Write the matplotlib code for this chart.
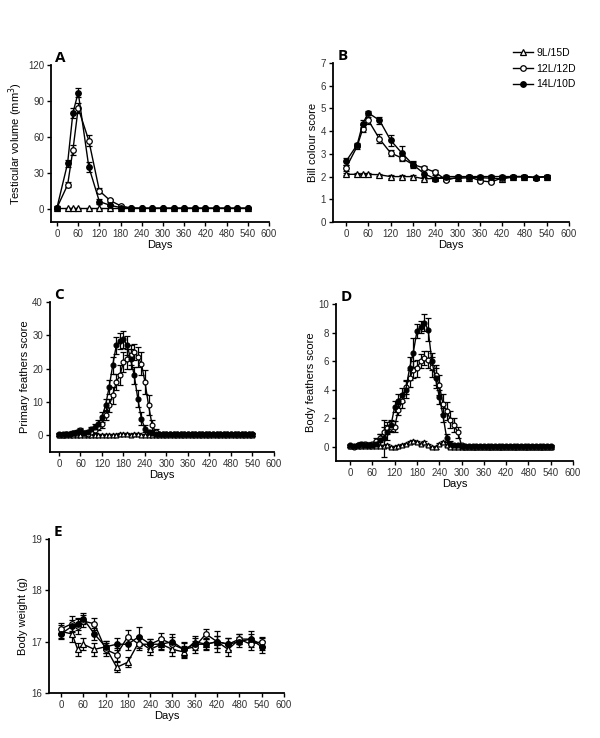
import numpy as np
import matplotlib.pyplot as plt
from matplotlib.lines import Line2D

plt.rcParams['font.family'] = ['Liberation Sans', 'DejaVu Sans']

# sampling days for panels A, B, E
days = [0, 30, 45, 60, 90, 120, 150, 180, 210, 240, 270, 300, 330, 360,
        390, 420, 450, 480, 510, 540]
# denser sampling for the moult panels C, D
days_m = list(range(0, 541, 10))

labels = ['9L/15D', '12L/12D', '14L/10D']

# A: testicular volume
testis_9 = [0.5, 0.5, 0.5, 0.5, 0.5, 0.5, 0.5, 0.5, 0.5, 0.5, 0.5, 0.5, 0.5,
            0.5, 0.5, 0.5, 0.5, 0.5, 0.5, 0.5]
testis_12 = [1, 20, 49, 84, 57, 15, 7, 2.5, 0.6, 0.5, 0.5, 0.5, 0.5, 0.5,
             0.5, 0.5, 0.5, 0.5, 0.5, 0.5]
testis_14 = [1, 38, 80, 97, 35, 6, 3, 1, 0.6, 0.5, 0.5, 0.5, 0.5, 0.5,
             0.5, 0.5, 0.5, 0.5, 0.5, 0.5]
testis_9_err = [0.3] * 20
testis_12_err = [1, 2, 4, 4, 5, 2, 1.5, 1, 0.5, 0.5, 0.5, 0.5, 0.5, 0.5,
                 0.5, 0.5, 0.5, 0.5, 0.5, 0.5]
testis_14_err = [1, 3, 4, 4, 4, 2, 1, 0.5, 0.5, 0.5, 0.5, 0.5, 0.5, 0.5,
                 0.5, 0.5, 0.5, 0.5, 0.5, 0.5]

# B: bill colour score
bill_9 = [2.1, 2.1, 2.1, 2.1, 2.08, 2.0, 2.0, 2.0, 1.9, 1.92, 1.93, 1.92,
          1.95, 1.95, 1.93, 1.9, 1.98, 2.0, 1.97, 2.0]
bill_12 = [2.38, 3.33, 4.1, 4.48, 3.66, 3.04, 2.82, 2.53, 2.38, 2.19, 1.84,
           1.97, 2.0, 1.82, 1.76, 1.94, 2.0, 2.0, 1.95, 2.0]
bill_14 = [2.67, 3.4, 4.33, 4.8, 4.48, 3.6, 3.04, 2.53, 2.13, 1.9, 2.0, 2.0,
           2.0, 2.0, 2.0, 2.0, 2.0, 2.0, 1.95, 2.0]
bill_9_err = [0.05] * 20
bill_12_err = [0.15, 0.1, 0.15, 0.15, 0.2, 0.15, 0.15, 0.1, 0.1, 0.1, 0.05,
               0.05, 0.05, 0.05, 0.05, 0.05, 0.05, 0.05, 0.05, 0.05]
bill_14_err = [0.15, 0.1, 0.15, 0.1, 0.15, 0.25, 0.3, 0.15, 0.15, 0.1, 0.05,
               0.05, 0.05, 0.05, 0.05, 0.05, 0.05, 0.05, 0.05, 0.05]

# C: primary feathers score
prim_9 = [0.0, 0.0, 0.0, 0.0, 0.0, 0.0, 0.0, 0.0, 0.0, 0.0, 0.0, 0.0, 0.0,
          0.0, 0.0, 0.2, 0.2, 0.3, 0.3, 0.3, 0.2, 0.3, 0.3, 0.2, 0.2, 0.0,
          0.0, 0.0, 0.0, 0.0, 0.0, 0.0, 0.0, 0.0, 0.0, 0.0, 0.0, 0.0, 0.0,
          0.0, 0.0, 0.0, 0.0, 0.0, 0.0, 0.0, 0.0, 0.0, 0.0, 0.0, 0.0, 0.0,
          0.0, 0.0, 0.0]
prim_12 = [0.2, 0.2, 0.3, 0.4, 0.6, 0.8, 1.5, 0.8, 0.5, 1.0, 1.5, 2.5, 3.5,
           6, 9, 12, 16, 18, 22, 23, 24, 25, 23.5, 21.5, 16, 9, 3, 1,
           0.3, 0.3, 0.3, 0.3, 0.3, 0.3, 0.3, 0.3, 0.3, 0.3, 0.3, 0.3, 0.3,
           0.3, 0.3, 0.3, 0.3, 0.3, 0.3, 0.3, 0.3, 0.3, 0.3, 0.3, 0.3, 0.3,
           0.3]
prim_14 = [0.3, 0.3, 0.4, 0.5, 0.8, 1.0, 1.2, 0.8, 1.0, 1.8, 2.5, 3.5, 5.5,
           9, 14.5, 21, 27, 28.3, 28.8, 27, 23, 18, 11, 5, 2, 1, 0.6, 0.4,
           0.3, 0.3, 0.3, 0.3, 0.3, 0.3, 0.3, 0.3, 0.3, 0.3, 0.3, 0.3, 0.3,
           0.3, 0.3, 0.3, 0.3, 0.3, 0.3, 0.3, 0.3, 0.3, 0.3, 0.3, 0.3, 0.3,
           0.3]
prim_12_err = [0.5, 0.5, 0.5, 0.5, 0.6, 0.6, 0.8, 0.6, 0.5, 0.6, 0.8, 1.0,
               1.2, 1.5, 2.0, 2.5, 2.5, 3.0, 3.0, 3.0, 3.0, 2.5, 3.0, 3.5,
               3.5, 3.0, 1.5, 0.8, 0.5, 0.5, 0.5, 0.5, 0.5, 0.5, 0.5, 0.5,
               0.5, 0.5, 0.5, 0.5, 0.5, 0.5, 0.5, 0.5, 0.5, 0.5, 0.5, 0.5,
               0.5, 0.5, 0.5, 0.5, 0.5, 0.5, 0.5]
prim_14_err = [0.5, 0.5, 0.5, 0.5, 0.6, 0.6, 0.8, 0.6, 0.6, 0.8, 1.0, 1.2,
               1.5, 1.8, 2.0, 2.5, 2.5, 2.5, 2.5, 2.8, 3.0, 2.5, 2.5, 2.0,
               1.0, 0.6, 0.5, 0.5, 0.5, 0.5, 0.5, 0.5, 0.5, 0.5, 0.5, 0.5,
               0.5, 0.5, 0.5, 0.5, 0.5, 0.5, 0.5, 0.5, 0.5, 0.5, 0.5, 0.5,
               0.5, 0.5, 0.5, 0.5, 0.5, 0.5, 0.5]

# D: body feathers score
body_9 = [0.05, 0.05, 0.05, 0.05, 0.05, 0.05, 0.05, 0.05, 0.05, 0.05, 0.1,
          0.0, -0.05, 0.05, 0.1, 0.2, 0.3, 0.4, 0.35, 0.2, 0.3, 0.1, 0.0,
          -0.05, 0.2, 0.3, 0.1, 0.0, -0.05, -0.05, -0.05, -0.05, -0.05,
          -0.05, -0.05, -0.05, -0.05, -0.05, -0.05, -0.05, -0.05, -0.05,
          -0.05, -0.05, -0.05, -0.05, -0.05, -0.05, -0.05, -0.05, -0.05,
          -0.05, -0.05, -0.05, -0.05]
body_12 = [0.05, 0.0, 0.1, 0.1, 0.2, 0.1, 0.2, 0.4, 0.6, 1.0, 1.3, 1.4, 1.4,
           2.6, 3.2, 4.2, 4.8, 5.4, 5.5, 6.0, 6.2, 6.1, 5.6, 5.0, 4.3, 3.0,
           2.5, 1.9, 1.5, 1.0, 0.1, 0.0, 0.0, 0.0, 0.0, 0.0, 0.0, 0.0, 0.0,
           0.0, 0.0, 0.0, 0.0, 0.0, 0.0, 0.0, 0.0, 0.0, 0.0, 0.0, 0.0, 0.0,
           0.0, 0.0, 0.0]
body_14 = [0.1, 0.05, 0.1, 0.2, 0.1, 0.15, 0.1, 0.2, 0.5, 0.6, 1.0, 1.5,
           2.8, 3.2, 3.6, 4.0, 5.5, 6.6, 8.1, 8.4, 8.7, 8.2, 6.0, 4.8, 3.5,
           2.2, 0.6, 0.2, 0.1, 0.1, 0.05, 0.05, 0.05, 0.05, 0.05, 0.05,
           0.05, 0.05, 0.05, 0.05, 0.05, 0.05, 0.05, 0.05, 0.05, 0.05, 0.05,
           0.05, 0.05, 0.05, 0.05, 0.05, 0.05, 0.05, 0.05]
body_12_err = [0.1, 0.1, 0.1, 0.1, 0.15, 0.1, 0.15, 0.2, 0.3, 0.4, 0.4, 0.4,
               0.4, 0.4, 0.5, 0.5, 0.6, 0.6, 0.6, 0.5, 0.5, 0.6, 0.7, 0.7,
               0.7, 0.7, 0.6, 0.6, 0.5, 0.4, 0.1, 0.1, 0.1, 0.1, 0.1, 0.1,
               0.1, 0.1, 0.1, 0.1, 0.1, 0.1, 0.1, 0.1, 0.1, 0.1, 0.1, 0.1,
               0.1, 0.1, 0.1, 0.1, 0.1, 0.1, 0.1]
body_14_err = [0.1, 0.1, 0.1, 0.15, 0.1, 0.1, 0.1, 0.2, 0.4, 1.3, 0.5, 0.4,
               0.4, 0.5, 0.5, 0.6, 0.8, 1.0, 0.5, 0.4, 0.6, 0.8, 0.6, 0.7,
               0.5, 0.5, 0.3, 0.2, 0.1, 0.1, 0.1, 0.1, 0.1, 0.1, 0.1, 0.1,
               0.1, 0.1, 0.1, 0.1, 0.1, 0.1, 0.1, 0.1, 0.1, 0.1, 0.1, 0.1,
               0.1, 0.1, 0.1, 0.1, 0.1, 0.1, 0.1]

# E: body weight
weight_9 = [17.2, 17.15, 16.85, 16.95, 16.85, 16.9, 16.5, 16.6, 17.0, 16.85,
            16.95, 16.85, 16.8, 17.0, 16.95, 17.0, 16.85, 17.05, 17.05, 16.95]
weight_12 = [17.25, 17.35, 17.3, 17.4, 17.35, 16.85, 16.75, 17.1, 16.95,
             16.95, 17.05, 16.95, 16.85, 16.9, 17.15, 17.0, 16.95, 17.05,
             16.95, 17.0]
weight_14 = [17.15, 17.3, 17.35, 17.45, 17.15, 16.9, 16.95, 16.95, 17.1,
             16.95, 16.95, 17.0, 16.85, 16.95, 16.95, 17.0, 16.95, 17.0,
             17.05, 16.9]
weight_9_err = [0.12, 0.15, 0.12, 0.12, 0.12, 0.12, 0.1, 0.1, 0.12, 0.1,
                0.1, 0.12, 0.12, 0.12, 0.1, 0.12, 0.12, 0.1, 0.1, 0.12]
weight_12_err = [0.12, 0.15, 0.15, 0.12, 0.12, 0.12, 0.12, 0.12, 0.12,
                 0.1, 0.12, 0.15, 0.12, 0.12, 0.1, 0.12, 0.12, 0.1, 0.12,
                 0.1]
weight_14_err = [0.1, 0.12, 0.12, 0.1, 0.12, 0.12, 0.12, 0.12, 0.18, 0.1,
                 0.12, 0.15, 0.15, 0.12, 0.12, 0.2, 0.12, 0.1, 0.15, 0.12]

tick_col = '#333333'
styles = [dict(marker='^', mfc='white'),
          dict(marker='o', mfc='white'),
          dict(marker='o', mfc='black')]


def make_axes(rect, xmin, ylim, yticks, ylabel, letter):
    W, H = 600.0, 738.0
    l, t, r, b = rect
    ax = fig.add_axes([l / W, 1 - b / H, (r - l) / W, (b - t) / H])
    ax.set_xlim(xmin, 600)
    ax.set_ylim(*ylim)
    ax.set_xticks(range(0, 601, 60))
    ax.set_yticks(yticks)
    for s in ['top', 'right']:
        ax.spines[s].set_visible(False)
    for s in ['left', 'bottom']:
        ax.spines[s].set_linewidth(1.3)
    ax.tick_params(length=3, width=1.0, labelsize=7, labelcolor=tick_col,
                   pad=2)
    ax.set_xlabel('Days', fontsize=8, labelpad=1)
    ax.set_ylabel(ylabel, fontsize=8, labelpad=2)
    ax.text(0.02, 1.0, letter, transform=ax.transAxes, fontsize=11,
            fontweight='bold', va='bottom', ha='left', family='Open Sans')
    return ax


def draw(ax, x, ys, errs, ms=4):
    for y, e, st in zip(ys, errs, styles):
        ax.errorbar(x, y, yerr=e, color='black', lw=1.0, ms=ms,
                    mec='black', mew=0.9, capsize=2, elinewidth=0.9,
                    capthick=0.9, clip_on=False, **st)


fig = plt.figure(figsize=(6, 7.38), dpi=100)

axA = make_axes((51, 65, 269, 222), -17, (-11, 120), [0, 30, 60, 90, 120],
                'Testicular volume (mm$^3$)', 'A')
draw(axA, days, [testis_9, testis_12, testis_14],
     [testis_9_err, testis_12_err, testis_14_err])

axB = make_axes((333, 63, 569, 222), -35, (0, 7), range(0, 8),
                'Bill colour score', 'B')
draw(axB, days, [bill_9, bill_12, bill_14],
     [bill_9_err, bill_12_err, bill_14_err])
handles = [Line2D([], [], color='black', lw=1.0, ms=4, mec='black', mew=0.9,
                  **st) for st in styles]
fig.legend(handles, labels, loc='upper left', bbox_to_anchor=(513 / 600, 1 - 48 / 738),
           frameon=False, fontsize=7.5, handlelength=1.9, handletextpad=0.35,
           labelspacing=0.55, borderaxespad=0, borderpad=0)

axC = make_axes((50, 302, 274, 452), -25, (-5, 40), [0, 10, 20, 30, 40],
                'Primary feathers score', 'C')
zero_err = [0.3] * len(days_m)
draw(axC, days_m, [prim_9, prim_12, prim_14],
     [zero_err, prim_12_err, prim_14_err], ms=3.5)

axD = make_axes((336, 304, 573, 461), -38, (-1, 10), [0, 2, 4, 6, 8, 10],
                'Body feathers score', 'D')
zero_err_d = [0.08] * len(days_m)
draw(axD, days_m, [body_9, body_12, body_14],
     [zero_err_d, body_12_err, body_14_err], ms=3.5)

axE = make_axes((49, 539, 284, 693), -32, (16, 19), [16, 17, 18, 19],
                'Body weight (g)', 'E')
draw(axE, days, [weight_9, weight_12, weight_14],
     [weight_9_err, weight_12_err, weight_14_err])

fig.savefig('out.png', dpi=100)
